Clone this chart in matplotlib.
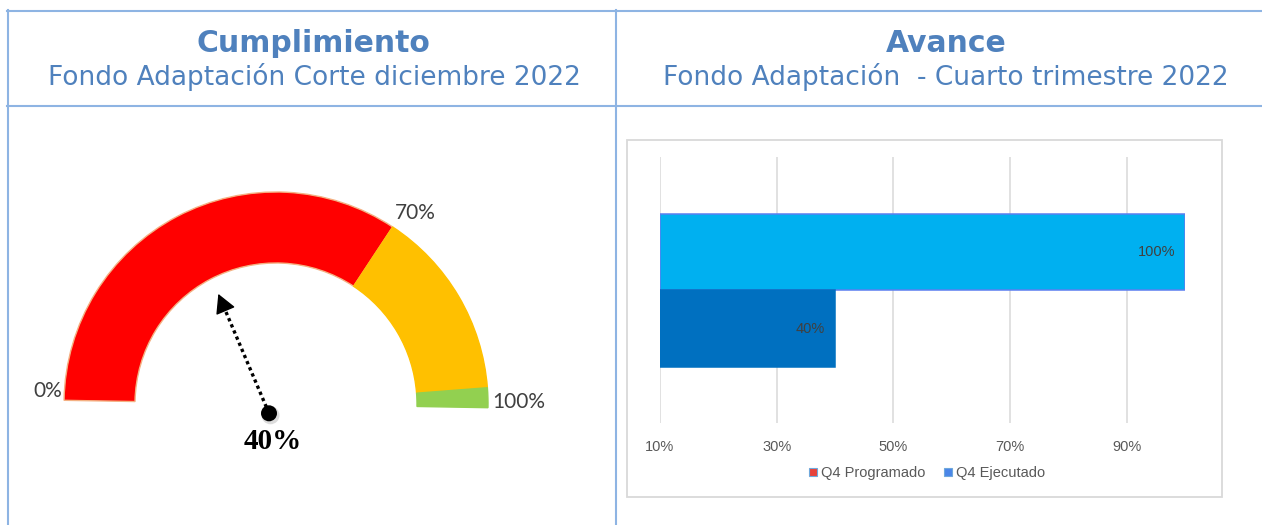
import matplotlib
matplotlib.use("Agg")
import matplotlib.pyplot as plt
import numpy as np
from matplotlib.patches import Wedge, Circle, Rectangle
from matplotlib.lines import Line2D

# ---- data ----
gauge_edges = [0, 68, 97, 100]          # band limits (%)
gauge_colors = ["#FF0000", "#FFC000", "#92D050"]
gauge_label_values = [0, 68, 100]
gauge_labels = ["0%", "70%", "100%"]
gauge_value = 40

bar_series = ["Q4 Programado", "Q4 Ejecutado"]
bar_values = [1.00, 0.40]
bar_colors = ["#00B0F0", "#0070C0"]
legend_colors = ["#E8423A", "#4A86E8"]
x_ticks = [0.1, 0.3, 0.5, 0.7, 0.9]

W, H = 1262, 525
BLUE_LINE = "#8EB4E3"
TITLE_BLUE = "#4F81BD"

fig = plt.figure(figsize=(W / 100, H / 100), dpi=100)

# ---- frame / headers (pixel coordinates) ----
bg = fig.add_axes([0, 0, 1, 1])
bg.set_xlim(0, W)
bg.set_ylim(H, 0)
bg.axis("off")
lw_frame = 1.5
bg.plot([7, W], [10.5, 10.5], color=BLUE_LINE, lw=lw_frame)
bg.plot([7, W], [106, 106], color=BLUE_LINE, lw=lw_frame)
bg.plot([8, 8], [10, H], color=BLUE_LINE, lw=lw_frame)
bg.plot([616, 616], [10, H], color=BLUE_LINE, lw=lw_frame)

bg.text(313, 44, "Cumplimiento", ha="center", va="center", fontsize=21.5,
        fontweight="bold", color=TITLE_BLUE, family="DejaVu Sans")
bg.text(314, 77, "Fondo Adaptación Corte diciembre 2022", ha="center", va="center",
        fontsize=19, color=TITLE_BLUE, family="DejaVu Sans")
bg.text(946, 44, "Avance", ha="center", va="center", fontsize=21.5,
        fontweight="bold", color=TITLE_BLUE, family="DejaVu Sans")
bg.text(946, 77, "Fondo Adaptación  - Cuarto trimestre 2022", ha="center", va="center",
        fontsize=19, color=TITLE_BLUE, family="DejaVu Sans")

# chart box on the right
bg.add_patch(Rectangle((627, 139.5), 595, 357, fill=False, ec="#D9D9D9", lw=1.3))

# ---- gauge ----
CX, CY, R = 276, 404, 212
ax_g = fig.add_axes([20 / W, 1 - 500 / H, 580 / W, 370 / H])
ax_g.set_xlim((20 - CX) / R, (600 - CX) / R)
ax_g.set_ylim((CY - 500) / R, (CY - 130) / R)
ax_g.axis("off")

TILT = 1.0
def angle(v):
    return 180 - TILT - 1.8 * v

ring = 1 - 141 / R
for i, col in enumerate(gauge_colors):
    ec = "#F4B183" if i == 0 else col
    ax_g.add_patch(Wedge((0, 0), 1.0, angle(gauge_edges[i + 1]), angle(gauge_edges[i]),
                         width=ring, fc=col, ec=ec, lw=1.0))

label_offsets = [(-2, 9, "right"), (2, 14, "left"), (4, 6, "left")]
for v, txt, (dx, dy, ha) in zip(gauge_label_values, gauge_labels, label_offsets):
    a = np.radians(angle(v))
    ax_g.annotate(txt, (np.cos(a), np.sin(a)), xytext=(dx, dy), textcoords="offset pixels",
                  ha=ha, va="center", fontsize=15, color="#404040", family="Lato")

# needle
NEEDLE_SKEW = 6
base = np.array([-7 / R, -9.3 / R])
a = np.radians(angle(gauge_value) + NEEDLE_SKEW)
direction = np.array([np.cos(a), np.sin(a)])
tip = base + 0.625 * direction
back = tip - 0.07 * direction
ax_g.plot([base[0], back[0]], [base[1], back[1]], color="black", lw=2.4,
          ls=(0, (1, 1)), solid_capstyle="butt")
ax_g.annotate("", xy=tip, xytext=back,
              arrowprops=dict(arrowstyle="-|>,head_length=0.7,head_width=0.38",
                              color="black", lw=1, mutation_scale=17))
ax_g.add_patch(Circle(base + np.array([1.5 / R, -2 / R]), 9 / R, color="#BBBBBB", alpha=0.5, lw=0))
ax_g.add_patch(Circle(base, 8 / R, color="black", lw=0))
ax_g.annotate(f"{gauge_value}%", base, xytext=(4, -28), textcoords="offset pixels",
              ha="center", va="center", fontsize=21, fontweight="bold",
              family="Liberation Serif", color="black")

# ---- bar chart ----
ax_b = fig.add_axes([660 / W, 1 - 423.3 / H, 525 / W, 266 / H])
xmin, xmax = 0.1, 1.0
ypos = [0.144, -0.144]
edges = ["#5B7FF0", bar_colors[1]]
for y, v, c, e in zip(ypos, bar_values, bar_colors, edges):
    ax_b.barh(y, v - xmin, left=xmin, height=0.289, color=c, edgecolor=e, lw=1.1, zorder=3)
    ax_b.annotate(f"{v:.0%}", (v, y), xytext=(-10, 0), textcoords="offset pixels",
                  ha="right", va="center", fontsize=10.5, color="#404040",
                  family="Liberation Sans", zorder=4)
ax_b.set_xlim(xmin, xmax)
ax_b.set_ylim(-0.5, 0.5)
ax_b.set_xticks(x_ticks)
ax_b.set_xticklabels([f"{t:.0%}" for t in x_ticks], fontsize=10.5, color="#595959",
                     family="Liberation Sans")
ax_b.set_yticks([])
ax_b.tick_params(axis="x", length=0, pad=12)
ax_b.grid(axis="x", color="#D9D9D9", lw=1.1, zorder=0)
for s in ax_b.spines.values():
    s.set_visible(False)

handles = [Line2D([], [], ls="none", marker="s", markersize=5.5, markerfacecolor=c,
                  markeredgecolor="#6FA8DC", markeredgewidth=0.8) for c in legend_colors]
leg = fig.legend(handles, bar_series, loc="center", bbox_to_anchor=(927 / W, 1 - 473.3 / H),
                 ncol=2, frameon=False, handlelength=0.6, handletextpad=0.2,
                 columnspacing=1.3, prop={"family": "Liberation Sans", "size": 10.5})
for t in leg.get_texts():
    t.set_color("#595959")

fig.savefig("out.png", dpi=100)
